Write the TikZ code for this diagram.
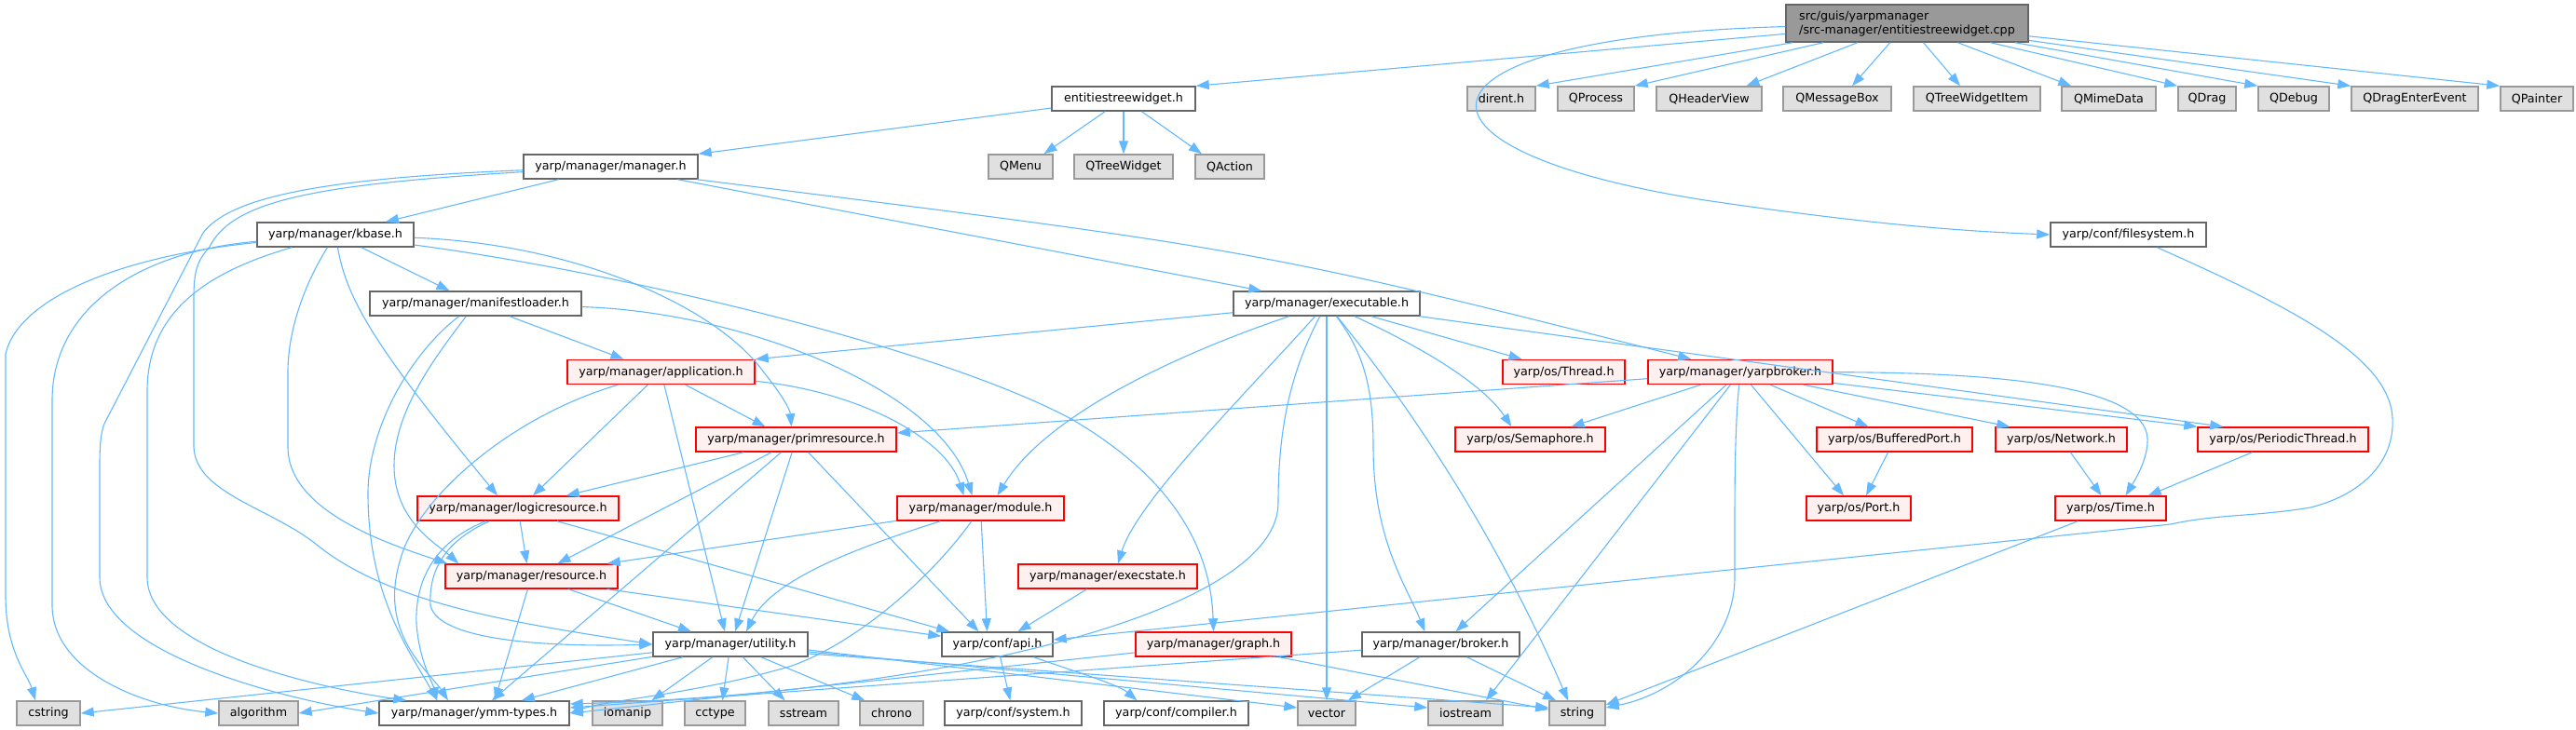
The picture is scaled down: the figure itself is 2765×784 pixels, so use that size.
\documentclass[tikz,border=0pt]{standalone}
\usepackage{fontspec}
\newfontfamily\dejavu{DejaVu Sans}
\usetikzlibrary{arrows.meta,calc}
\definecolor{edgec}{HTML}{63B8FF}
\definecolor{redb}{HTML}{FF0000}
\definecolor{redf}{HTML}{FFF0F0}
\definecolor{grayf}{HTML}{E0E0E0}
\definecolor{grayb}{HTML}{999999}
\definecolor{darkb}{HTML}{666666}
\tikzset{
  bx/.style={line width=1.5pt, minimum height=26pt, inner sep=0pt, text=black,
    font=\dejavu\fontsize{12.7}{15}\selectfont},
  nb/.style={bx, draw=darkb, fill=white},
  gb/.style={bx, draw=grayb, fill=grayf},
  rb/.style={bx, draw=redb, fill=redf},
  rootb/.style={bx, draw=darkb, fill=grayb},
  e/.style={draw=edgec, line width=1.1pt, -{Triangle[length=14pt,width=10pt]}}
}
\begin{document}
\begin{tikzpicture}[x=1pt,y=-1pt]
\useasboundingbox (0,0) rectangle (2765,784);
% row 1
\node[rootb, minimum width=260pt, minimum height=40pt, align=left] (root) at (2047,25) {src/guis/yarpmanager\\/src-manager/entitiestreewidget.cpp};
% row 2
\node[nb, minimum width=154pt] (ent) at (1206,106) {entitiestreewidget.h};
\node[gb, minimum width=73pt] (dirent) at (1611.5,106) {dirent.h};
\node[gb, minimum width=82pt] (qprocess) at (1713,106) {QProcess};
\node[gb, minimum width=113pt] (qheaderview) at (1834.5,106) {QHeaderView};
\node[gb, minimum width=116pt] (qmessagebox) at (1972,106) {QMessageBox};
\node[gb, minimum width=136pt] (qtreewidgetitem) at (2122,106) {QTreeWidgetItem};
\node[gb, minimum width=101pt] (qmimedata) at (2263.5,106) {QMimeData};
\node[gb, minimum width=62pt] (qdrag) at (2369,106) {QDrag};
\node[gb, minimum width=76pt] (qdebug) at (2462,106) {QDebug};
\node[gb, minimum width=136pt] (qdragenter) at (2592,106) {QDragEnterEvent};
\node[gb, minimum width=78pt] (qpainter) at (2723,106) {QPainter};
% row 3
\node[nb, minimum width=187pt] (manager) at (655.5,179) {yarp/manager/manager.h};
\node[gb, minimum width=69pt] (qmenu) at (1095.5,179) {QMenu};
\node[gb, minimum width=106pt] (qtreewidget) at (1206,179) {QTreeWidget};
\node[gb, minimum width=74pt] (qaction) at (1320,179) {QAction};
% row 4
\node[nb, minimum width=168pt] (kbase) at (360,252) {yarp/manager/kbase.h};
\node[nb, minimum width=167pt] (filesystem) at (2284.5,252) {yarp/conf/filesystem.h};
% row 5
\node[nb, minimum width=227pt] (manifest) at (510.5,326) {yarp/manager/manifestloader.h};
\node[nb, minimum width=200pt] (executable) at (1424,326) {yarp/manager/executable.h};
% row 6
\node[rb, minimum width=201pt] (application) at (709.5,399.5) {yarp/manager/application.h};
\node[rb, minimum width=131pt] (thread) at (1678.5,399.5) {yarp/os/Thread.h};
\node[rb, minimum width=198pt] (yarpbroker) at (1868,399.5) {yarp/manager/yarpbroker.h};
% row 7
\node[rb, minimum width=215pt] (primresource) at (854.5,472) {yarp/manager/primresource.h};
\node[rb, minimum width=161pt] (semaphore) at (1642.5,472) {yarp/os/Semaphore.h};
\node[rb, minimum width=167pt] (bufferedport) at (2033.5,472) {yarp/os/BufferedPort.h};
\node[rb, minimum width=141pt] (network) at (2212.5,472) {yarp/os/Network.h};
\node[rb, minimum width=183pt] (periodic) at (2450.5,472) {yarp/os/PeriodicThread.h};
% row 8
\node[rb, minimum width=216pt] (logicresource) at (556,546) {yarp/manager/logicresource.h};
\node[rb, minimum width=179pt] (module) at (1052.5,546) {yarp/manager/module.h};
\node[rb, minimum width=112pt] (port) at (1995,546) {yarp/os/Port.h};
\node[rb, minimum width=119pt] (time) at (2265.5,546) {yarp/os/Time.h};
% row 9
\node[rb, minimum width=185pt] (resource) at (570.5,619) {yarp/manager/resource.h};
\node[rb, minimum width=192pt] (execstate) at (1189,619) {yarp/manager/execstate.h};
% row 10
\node[nb, minimum width=166pt] (utility) at (784,692) {yarp/manager/utility.h};
\node[nb, minimum width=119pt] (api) at (1070.5,692) {yarp/conf/api.h};
\node[rb, minimum width=167pt] (graph) at (1302.5,692) {yarp/manager/graph.h};
\node[nb, minimum width=169pt] (broker) at (1546.5,692) {yarp/manager/broker.h};
% row 11
\node[gb, minimum width=68pt] (cstring) at (52,766) {cstring};
\node[gb, minimum width=85pt] (algorithm) at (277.5,766) {algorithm};
\node[nb, minimum width=204pt] (ymm) at (509,766) {yarp/manager/ymm-types.h};
\node[gb, minimum width=75pt] (iomanip) at (673.5,766) {iomanip};
\node[gb, minimum width=65pt] (cctype) at (767.5,766) {cctype};
\node[gb, minimum width=75pt] (sstream) at (862.5,766) {sstream};
\node[gb, minimum width=68pt] (chrono) at (957,766) {chrono};
\node[nb, minimum width=147pt] (system) at (1087.5,766) {yarp/conf/system.h};
\node[nb, minimum width=155pt] (compiler) at (1262.5,766) {yarp/conf/compiler.h};
\node[gb, minimum width=62pt] (vector) at (1424,766) {vector};
\node[gb, minimum width=80pt] (iostream) at (1573,766) {iostream};
\node[gb, minimum width=60pt] (string) at (1693,766) {string};

% ---- edges from root
\draw[e] (root) -- (ent.north east);
\draw[e] (root) -- (dirent.north east);
\draw[e] (root) -- (qprocess.north east);
\draw[e] (root) -- ($(qheaderview.north)+(40,0)$);
\draw[e] (root) -- ($(qmessagebox.north)+(16,0)$);
\draw[e] (root) -- ($(qtreewidgetitem.north)+(-18,0)$);
\draw[e] (root) -- ($(qmimedata.north west)+(11,0)$);
\draw[e] (root) -- (qdrag.north west);
\draw[e] (root) -- (qdebug.north west);
\draw[e] (root) -- (qdragenter.north west);
\draw[e] (root) -- (qpainter.north west);
\draw[e] (root) .. controls (1500,40) and (1480,160) .. (1830,215) .. controls (2000,240) and (2100,248) .. (filesystem.west);
% ---- entitiestreewidget.h
\draw[e] (ent) -- (manager.north east);
\draw[e] (ent) -- ($(qmenu.north)+(25,0)$);
\draw[e] (ent) -- (qtreewidget);
\draw[e] (ent) -- ($(qaction.north)+(-30,0)$);
% ---- manager.h
\draw[e] (manager) -- ($(kbase.north)+(54,0)$);
\draw[e] (manager) -- ($(executable.north west)+(31,0)$);
\draw[e] ($(manager.south east)+(-2,0)$) .. controls (1350,268) .. ($(yarpbroker.north west)+(47,0)$);
\draw[e] (manager) .. controls (330,192) and (245,215) .. (218,250) -- (112,455) .. controls (108,465) and (107,480) .. (107,500) -- (107,620) .. controls (107,700) and (300,750) .. (ymm.west);
\draw[e] (manager) .. controls (340,198) and (250,215) .. (225,265) .. controls (212,280) and (208,290) .. (208,320) -- (208,480) .. controls (210,530) and (290,545) .. (340,585) .. controls (420,650) and (560,670) .. (utility.west);
% ---- kbase.h
\draw[e] (kbase) .. controls (130,275) and (20,320) .. (6,380) -- (6,640) .. controls (6,700) and (30,725) .. ($(cstring.north)+(-14,0)$);
\draw[e] (kbase) .. controls (150,270) and (56,330) .. (56,430) -- (56,650) .. controls (56,720) and (150,758) .. (algorithm.west);
\draw[e] (kbase) .. controls (230,290) and (158,330) .. (158,420) -- (158,620) .. controls (158,700) and (350,740) .. ($(ymm.north west)+(30,0)$);
\draw[e] (kbase) .. controls (330,300) and (309,350) .. (309,400) -- (309,480) .. controls (309,550) and (420,585) .. ($(resource.north west)+(3,0)$);
\draw[e] (kbase) .. controls (372,320) and (400,370) .. ($(logicresource.north)+(-22,0)$);
\draw[e] (kbase) -- (manifest);
\draw[e] (kbase) .. controls (620,262) and (770,330) .. (820,400) .. controls (840,425) and (848,440) .. ($(primresource.north)+(-5,0)$);
\draw[e] (kbase) .. controls (650,290) and (1000,370) .. (1150,450) .. controls (1270,520) and (1300,600) .. (graph.north);
% ---- manifestloader.h
\draw[e] (manifest) -- ($(application.north)+(-40,0)$);
\draw[e] (manifest) .. controls (800,335) and (1010,420) .. ($(module.north)+(-9,0)$);
\draw[e] (manifest) .. controls (470,380) and (423,440) .. (423,500) .. controls (423,560) and (470,585) .. ($(resource.north west)+(15,0)$);
\draw[e] (manifest) .. controls (440,380) and (395,460) .. (395,530) .. controls (395,640) and (440,700) .. ($(ymm.north west)+(63,0)$);
% ---- application.h
\draw[e] (application) -- ($(primresource.north)+(-33,0)$);
\draw[e] (application) -- ($(logicresource.north)+(16,0)$);
\draw[e] (application) -- ($(utility.north)+(-6,0)$);
\draw[e] (application) .. controls (540,450) and (446,540) .. (430,600) .. controls (405,680) and (460,720) .. ($(ymm.north)+(-28,0)$);
\draw[e] (application) .. controls (920,420) and (1015,470) .. ($(module.north)+(-18,0)$);
% ---- primresource.h
\draw[e] (primresource) -- ($(logicresource.north east)+(-57,0)$);
\draw[e] (primresource) -- ($(resource.north)+(28,0)$);
\draw[e] (primresource) -- ($(utility.north)+(5,0)$);
\draw[e] (primresource) -- ($(ymm.north)+(19,0)$);
\draw[e] (primresource) -- ($(api.north)+(-20,0)$);
% ---- logicresource.h
\draw[e] (logicresource) -- ($(resource.north)+(-5,0)$);
\draw[e] (logicresource) .. controls (480,580) and (460,610) .. (462,650) .. controls (470,690) and (600,695) .. (utility.west);
\draw[e] (logicresource) .. controls (470,580) and (445,620) .. (447,670) .. controls (450,710) and (465,735) .. ($(ymm.north)+(-40,0)$);
\draw[e] ($(logicresource.south)+(42,0)$) -- ($(api.north west)+(9,0)$);
% ---- resource.h
\draw[e] (resource) -- ($(utility.north)+(-42,0)$);
\draw[e] (resource) -- ($(ymm.north)+(22,0)$);
\draw[e] ($(resource.south east)+(-12,0)$) -- ($(api.north west)+(0,5)$);
% ---- module.h
\draw[e] (module) -- ($(resource.north east)+(-12,0)$);
\draw[e] (module) .. controls (930,585) and (830,620) .. ($(utility.north)+(17,0)$);
\draw[e] (module) -- ($(api.north)+(-11,0)$);
\draw[e] (module) .. controls (1000,620) and (920,690) .. (850,715) .. controls (750,745) and (650,752) .. (ymm.east);
% ---- execstate.h
\draw[e] (execstate) -- ($(api.north)+(22,0)$);
% ---- utility.h
\draw[e] (utility) -- ($(ymm.north east)+(-52,0)$);
\draw[e] (utility) -- (cstring.east);
\draw[e] (utility) -- (algorithm.east);
\draw[e] (utility) -- ($(iomanip.north)+(26,0)$);
\draw[e] (utility) -- ($(cctype.north)+(8,0)$);
\draw[e] (utility) -- ($(sstream.north)+(-20,0)$);
\draw[e] (utility) -- ($(chrono.north west)+(6,0)$);
\draw[e] ($(utility.east)+(0,6)$) -- ($(vector.west)+(0,-6)$);
\draw[e] ($(utility.east)+(0,8)$) -- ($(iostream.west)+(0,-6)$);
\draw[e] ($(utility.east)+(0,10)$) -- ($(string.west)+(0,-6)$);
% ---- api.h
\draw[e] (api) -- (system);
\draw[e] (api) .. controls (1150,720) and (1200,735) .. ($(compiler.north)+(-42,0)$);
% ---- graph.h
\draw[e] (graph) -- (ymm.east);
\draw[e] (graph) -- ($(string.west)+(0,-4)$);
% ---- broker.h
\draw[e] (broker) -- ($(ymm.east)+(0,-6)$);
\draw[e] (broker) -- ($(vector.north)+(23,0)$);
\draw[e] (broker) -- ($(string.north)+(-23,0)$);
% ---- executable.h
\draw[e] (executable) -- (application.north east);
\draw[e] (executable) -- ($(thread.north)+(-45,0)$);
\draw[e] (executable) .. controls (1520,370) and (1590,410) .. ($(semaphore.north)+(-20,0)$);
\draw[e] (executable) .. controls (1465,380) and (1474,420) .. (1474,480) .. controls (1474,580) and (1510,630) .. ($(broker.north)+(-17,0)$);
\draw[e] (executable) .. controls (1500,420) and (1600,560) .. ($(string.north)+(-10,0)$);
\draw[e] (executable) -- (vector);
\draw[e] (executable) .. controls (1385,400) and (1372,460) .. (1372,540) .. controls (1372,660) and (1000,745) .. ($(ymm.east)+(0,-10)$);
\draw[e] (executable) .. controls (1250,385) and (1120,450) .. ($(module.north)+(18,0)$);
\draw[e] (executable) .. controls (1330,430) and (1220,540) .. ($(execstate.north)+(11,0)$);
\draw[e] (executable) -- ($(periodic.north west)+(28,0)$);
% ---- yarpbroker.h
\draw[e] (yarpbroker) -- ($(primresource.east)+(0,-7)$);
\draw[e] (yarpbroker) -- ($(semaphore.north)+(44,0)$);
\draw[e] (yarpbroker) -- ($(broker.north)+(16,0)$);
\draw[e] (yarpbroker) -- ($(iostream.north)+(22,0)$);
\draw[e] (yarpbroker) .. controls (1863,450) and (1862,500) .. (1862,560) -- (1862,620) .. controls (1862,690) and (1800,745) .. ($(string.east)+(0,-6)$);
\draw[e] (yarpbroker) -- ($(port.north)+(-16,0)$);
\draw[e] (yarpbroker) -- ($(bufferedport.north)+(-28,0)$);
\draw[e] (yarpbroker) -- ($(network.north west)+(16,0)$);
\draw[e] (yarpbroker) -- (periodic.north west);
\draw[e] (yarpbroker) .. controls (2150,400) and (2300,415) .. (2305,470) .. controls (2306,490) and (2295,510) .. ($(time.north)+(16,0)$);
% ---- yarp/os
\draw[e] (bufferedport) -- ($(port.north)+(8,0)$);
\draw[e] (network) -- ($(time.north)+(-10,0)$);
\draw[e] (periodic) -- ($(time.north east)+(-20,0)$);
\draw[e] (time) -- ($(string.east)+(0,-9)$);
% ---- filesystem.h
\draw[e] (filesystem) .. controls (2460,330) and (2555,380) .. (2567,440) .. controls (2575,490) and (2540,530) .. (2480,545) .. controls (2420,555) and (2380,552) .. (2330,563) -- ($(api.east)+(0,-5)$);
\end{tikzpicture}
\end{document}
